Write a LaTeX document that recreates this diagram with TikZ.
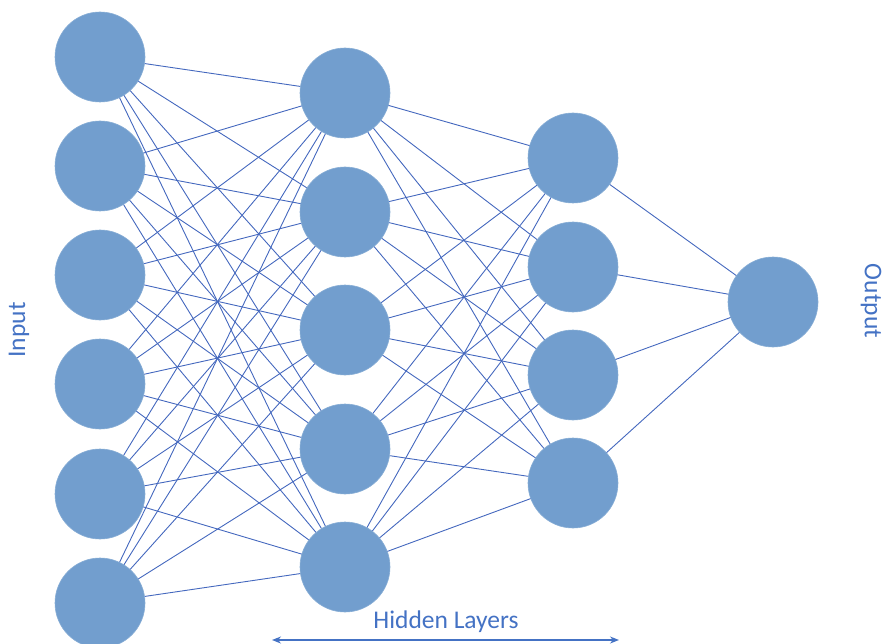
\documentclass[tikz,border=0pt]{standalone}
\usepackage{fontspec}
\setmainfont{Carlito}
\usetikzlibrary{arrows.meta}
\definecolor{neuron}{RGB}{114,158,206}
\definecolor{wire}{RGB}{68,104,190}
\definecolor{labeltext}{RGB}{68,114,196}
\tikzset{
  neuronnode/.style={circle, fill=neuron, draw=neuron!85!white, line width=0.6pt, minimum size=90pt, inner sep=0pt},
  wireline/.style={draw=wire, line width=0.9pt},
  labelnode/.style={text=labeltext, font=\fontsize{25.5}{30}\selectfont, inner sep=0pt},
}
\begin{document}
\begin{tikzpicture}[x=1pt, y=-1pt]
\useasboundingbox (0,0) rectangle (885,644);
% input layer
\foreach \i/\yy in {1/57, 2/166, 3/275, 4/384, 5/494, 6/603}
  \coordinate (in\i) at (100,\yy);
% first hidden layer
\foreach \i/\yy in {1/93, 2/212, 3/330, 4/449, 5/567}
  \coordinate (ha\i) at (345,\yy);
% second hidden layer
\foreach \i/\yy in {1/158, 2/267, 3/375, 4/483}
  \coordinate (hb\i) at (573,\yy);
% output layer
\coordinate (out1) at (773,302);
% connections
\foreach \i in {1,...,6}
  \foreach \j in {1,...,5}
    \draw[wireline] (in\i) -- (ha\j);
\foreach \i in {1,...,5}
  \foreach \j in {1,...,4}
    \draw[wireline] (ha\i) -- (hb\j);
\foreach \i in {1,...,4}
  \draw[wireline] (hb\i) -- (out1);
% neurons
\foreach \n in {in1,in2,in3,in4,in5,in6,ha1,ha2,ha3,ha4,ha5,hb1,hb2,hb3,hb4,out1}
  \node[neuronnode] (n-\n) at (\n) {};
% labels
\node[labelnode, rotate=90] (inlabel) at (19,330) {Input};
\node[labelnode, rotate=-90] (outlabel) at (871,301) {Output};
\node[labelnode] (hidlabel) at (446,622) {Hidden Layers};
\coordinate (arrowL) at (272,640);
\coordinate (arrowR) at (619,640);
\draw[draw=labeltext, line width=1.3pt, {Stealth[length=9pt,width=7pt]}-{Stealth[length=9pt,width=7pt]}] (arrowL) -- (arrowR);
\end{tikzpicture}
\end{document}
